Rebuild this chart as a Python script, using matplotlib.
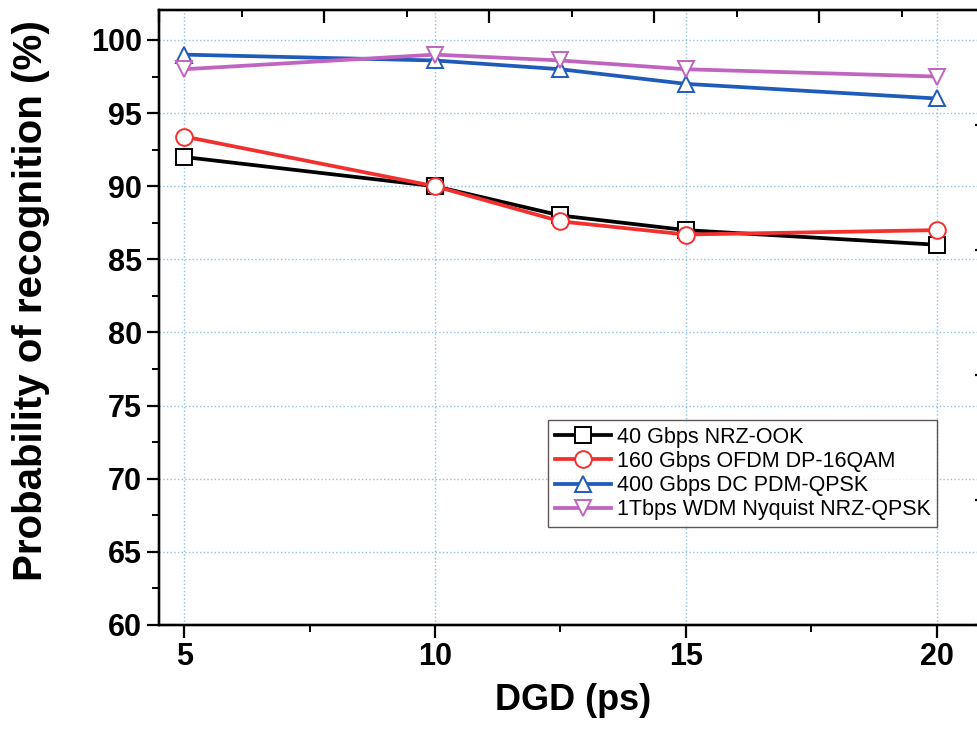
#recognition probability vs DGD for the four signal types
import numpy as np
import matplotlib
matplotlib.use('Agg')
import matplotlib.pyplot as plt
from matplotlib.ticker import MultipleLocator

plt.rcParams['font.family'] = ['Liberation Sans', 'DejaVu Sans']

########################################################### data
dgd = [5, 10, 12.5, 15, 20]
ook_40g = [92, 90, 88, 87, 86]
ofdm_160g = [93.4, 90, 87.6, 86.7, 87]
pdm_400g = [99, 98.6, 98, 97, 96]
nyq_1t = [98, 99, 98.6, 98, 97.5]

labels = ['40 Gbps NRZ-OOK', '160 Gbps OFDM DP-16QAM',
          '400 Gbps DC PDM-QPSK', '1Tbps WDM Nyquist NRZ-QPSK']
colors = ['black', '#f2302e', '#1f5bb8', '#c064c0']
markers = ['s', 'o', '^', 'v']

########################################################### plot
fig = plt.figure(figsize=(9.78, 7.42), dpi=100)
ax = fig.add_axes([0.1626, 0.1577, 0.8466, 0.8288])

series = [ook_40g, ofdm_160g, pdm_400g, nyq_1t]
for vals, lab, c, m in zip(series, labels, colors, markers):
    ax.plot(dgd, vals, color=c, lw=2.7, marker=m, ms=12, mfc='white',
            mec=c, mew=1.4, label=lab)

ax.set_xlim(4.5, 21)
ax.set_ylim(60, 102.05)
ax.xaxis.set_major_locator(MultipleLocator(5))
ax.xaxis.set_minor_locator(MultipleLocator(2.5))
ax.yaxis.set_major_locator(MultipleLocator(5))
ax.yaxis.set_minor_locator(MultipleLocator(2.5))
ax.grid(True, which='major', ls=':', lw=1.0, color='#8fc0e0')
ax.tick_params(which='major', direction='out', length=9, width=1.6,
               labelsize=22, top=False, right=False)
ax.tick_params(which='minor', direction='out', length=5, width=1.4,
               top=False, right=False)
for t in ax.get_xticklabels() + ax.get_yticklabels():
    t.set_fontweight('bold')
for s in ax.spines.values():
    s.set_linewidth(1.6)

ax.set_xlabel('DGD (ps)', fontsize=26, fontweight='bold', labelpad=8)
ax.set_ylabel('Probability of recognition (%)', fontsize=29, fontweight='bold')
ax.yaxis.set_label_coords(-0.132, 0.527)

# top / right axes have their own (unlabelled) scales, ticks inwards
axt = ax.twiny()
axt.set_xlim(0, 828 / 82.5)
axt.xaxis.set_major_locator(MultipleLocator(2))
axt.xaxis.set_minor_locator(MultipleLocator(1))
axt.tick_params(which='major', direction='in', length=9, width=1.6, labeltop=False)
axt.tick_params(which='minor', direction='in', length=5, width=1.4)
axr = ax.twinx()
axr.set_ylim(0, 615 / 125.0)
axr.yaxis.set_major_locator(MultipleLocator(1))
axr.yaxis.set_minor_locator(MultipleLocator(0.5))
axr.tick_params(which='major', direction='in', length=9, width=1.6, labelright=False)
axr.tick_params(which='minor', direction='in', length=5, width=1.4)
for a in (axt, axr):
    for s in a.spines.values():
        s.set_linewidth(1.6)

leg = ax.legend(loc='upper left', bbox_to_anchor=(0.47, 0.333), borderaxespad=0,
                fontsize=15.5, frameon=True, fancybox=False, handlelength=2.6,
                labelspacing=0.15, borderpad=0.3, handletextpad=0.3)
leg.get_frame().set_edgecolor('#3a2a2a')
leg.get_frame().set_linewidth(1.0)
leg.set_zorder(5)

fig.savefig('out.png', dpi=100)
